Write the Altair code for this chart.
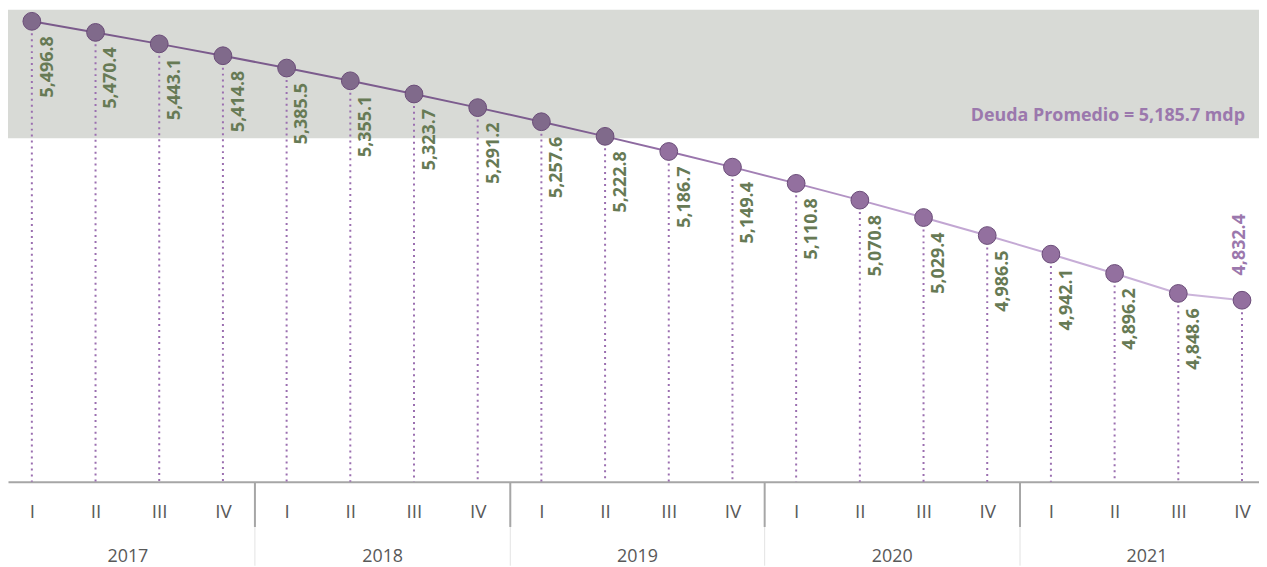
import json
import altair as alt
import pandas as pd

# ---------------- data ----------------
quarters = ["I", "II", "III", "IV"]
years = [2017, 2018, 2019, 2020, 2021]
deuda = [5496.8, 5470.4, 5443.1, 5414.8, 5385.5, 5355.1, 5323.7, 5291.2,
         5257.6, 5222.8, 5186.7, 5149.4, 5110.8, 5070.8, 5029.4, 4986.5,
         4942.1, 4896.2, 4848.6, 4832.4]
promedio = 5185.7
banda = [5218.0, 5524.3]          # shaded band (low, high)
y_min, y_max = 4400.0, 5524.3     # value axis range
titulo = "(millones de pesos)"

n = len(deuda)
df = pd.DataFrame({
    "i": list(range(n)),
    "v": deuda,
    "lbl": [f"{v:,.1f}" for v in deuda],
})
df_main = df.iloc[:-1]
df_last = df.iloc[-1:]
df_band = pd.DataFrame({"lo": [banda[0]], "hi": [banda[1]]})
df_avg = pd.DataFrame({"i": [n - 1], "y": [banda[0]],
                       "t": [f"Deuda Promedio = {promedio:,.1f} mdp"]})

W, H = 1259, 475
FONT = "Open Sans"
GREEN = "#677a55"
PURPLE_TXT = "#9b78ad"
AXIS_GRAY = "#a6a6a6"
LABEL_GRAY = "#595959"

xscale = alt.Scale(domain=[-0.3744, 19.267], nice=False, zero=False)
yscale = alt.Scale(domain=[y_min, y_max], nice=False, zero=False)

sep_vals = [4 * k + 3.5 for k in range(len(years) - 1)]
year_vals = [4 * k + 1.5 for k in range(len(years))]

ax_light = alt.Axis(orient="bottom", values=sep_vals, labels=False,
                    domain=False, grid=False, ticks=True, tickSize=84,
                    tickColor="#e3e3e3", tickWidth=1, title=None)
ax_sep = alt.Axis(orient="bottom", values=sep_vals, labels=False,
                  domain=False, grid=False, ticks=True, tickSize=45,
                  tickColor=AXIS_GRAY, tickWidth=2, title=None)
ax_q = alt.Axis(orient="bottom", values=list(range(n)),
                labelExpr=f"{json.dumps(quarters)}[datum.value % 4]",
                ticks=False, grid=False, domain=True, domainColor=AXIS_GRAY,
                domainWidth=2, labelFont=FONT, labelFontSize=19,
                labelColor=LABEL_GRAY, labelPadding=21, title=None)
ax_y = alt.Axis(orient="bottom", values=year_vals,
                labelExpr=f"{json.dumps(years)}[(datum.value - 1.5) / 4]",
                ticks=False, grid=False, domain=False, labelFont=FONT,
                labelFontSize=18, labelColor=LABEL_GRAY,
                labelPadding=66, title=None)

band = alt.Chart(df_band).mark_rect(color="#d8dad6").encode(
    y=alt.Y("lo:Q", scale=yscale, axis=None),
    y2="hi:Q",
)

rules = alt.Chart(df).mark_rule(strokeDash=[2, 4], strokeWidth=2,
                                color="#9b6fb0").encode(
    x=alt.X("i:Q", scale=xscale, axis=ax_light),
    y=alt.Y("v:Q", scale=yscale, axis=None),
    y2=alt.Y2(datum=y_min),
)

grad = alt.Gradient(
    gradient="linear", x1=0, x2=1, y1=0, y2=0,
    stops=[
        alt.GradientStop(offset=0.0, color="#7a5a8b"),
        alt.GradientStop(offset=0.45, color="#7d5d8f"),
        alt.GradientStop(offset=0.52, color="#9570a8"),
        alt.GradientStop(offset=0.62, color="#a684b8"),
        alt.GradientStop(offset=0.72, color="#c0a3d1"),
        alt.GradientStop(offset=1.0, color="#cdb7dc"),
    ],
)
line = alt.Chart(df).mark_line(color=grad, strokeWidth=2).encode(
    x=alt.X("i:Q", scale=xscale, axis=ax_sep),
    y=alt.Y("v:Q", scale=yscale, axis=None),
)

points = alt.Chart(df).mark_circle(size=320, opacity=1, stroke="#6a4c78",
                                   strokeWidth=1).encode(
    x=alt.X("i:Q", scale=xscale, axis=ax_q),
    y=alt.Y("v:Q", scale=yscale, axis=None),
    color=alt.condition(f"datum.v >= {banda[0]}", alt.value("#806a8b"),
                        alt.value("#93709f")),
)

labels = alt.Chart(df_main).mark_text(
    angle=270, align="right", baseline="middle", xOffset=16, yOffset=15,
    font=FONT, fontSize=18, fontWeight="bold", color=GREEN,
).encode(
    x=alt.X("i:Q", scale=xscale, axis=ax_y),
    y=alt.Y("v:Q", scale=yscale, axis=None),
    text="lbl:N",
)

last_label = alt.Chart(df_last).mark_text(
    angle=270, align="left", baseline="middle", xOffset=-2, yOffset=-25,
    font=FONT, fontSize=18, fontWeight="bold", color=PURPLE_TXT,
).encode(
    x=alt.X("i:Q", scale=xscale, axis=None),
    y=alt.Y("v:Q", scale=yscale, axis=None),
    text="lbl:N",
)

avg_text = alt.Chart(df_avg).mark_text(
    align="right", baseline="middle", xOffset=3, yOffset=-22,
    font=FONT, fontSize=18, fontWeight="bold", color=PURPLE_TXT,
).encode(
    x=alt.X("i:Q", scale=xscale, axis=None),
    y=alt.Y("y:Q", scale=yscale, axis=None),
    text="t:N",
)

chart = alt.layer(
    band, rules, line, points, labels, last_label, avg_text
).resolve_axis(x="independent").properties(
    width=W, height=H,
    title=alt.TitleParams(titulo, anchor="start", font=FONT, fontSize=17,
                          fontWeight="normal", color="#262626", offset=2),
    autosize=alt.AutoSizeParams(type="none"),
    padding={"left": 0, "top": 0, "right": 0, "bottom": 84},
).configure_view(stroke=None)

chart.save("out.html", embed_options={"renderer": "svg", "actions": False})
